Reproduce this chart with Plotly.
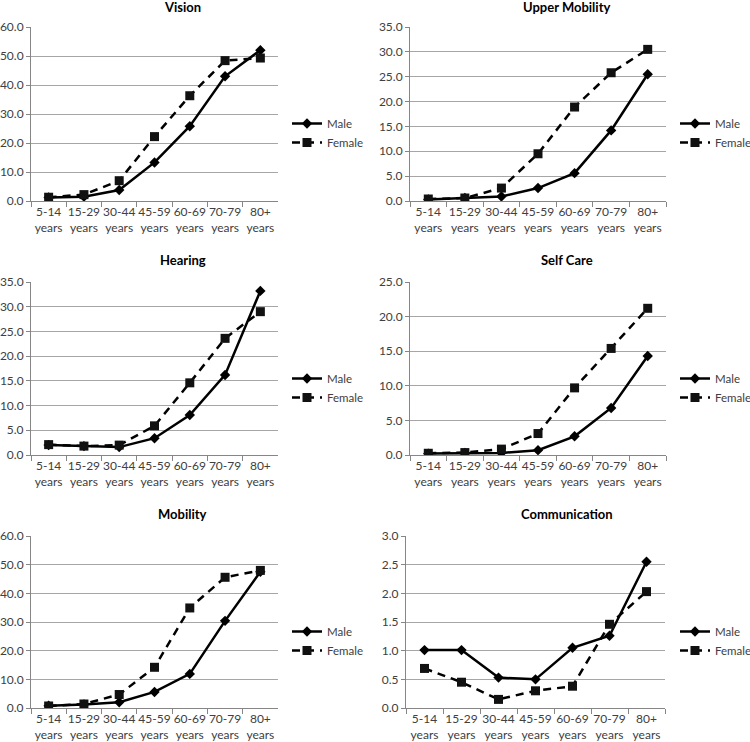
import plotly.graph_objects as go

categories = ["5-14<br>years", "15-29<br>years", "30-44<br>years", "45-59<br>years",
              "60-69<br>years", "70-79<br>years", "80+<br>years"]

titles = ["Vision", "Upper Mobility", "Hearing", "Self Care", "Mobility", "Communication"]

vision_male = [1.2, 1.5, 3.8, 13.3, 25.8, 43.0, 52.0]
vision_female = [1.3, 2.2, 7.0, 22.2, 36.3, 48.4, 49.3]
upper_male = [0.3, 0.6, 0.9, 2.6, 5.6, 14.2, 25.5]
upper_female = [0.4, 0.6, 2.6, 9.5, 18.9, 25.8, 30.5]
hearing_male = [2.0, 1.8, 1.6, 3.4, 8.1, 16.2, 33.2]
hearing_female = [2.1, 1.8, 2.0, 5.9, 14.6, 23.6, 29.0]
selfcare_male = [0.2, 0.3, 0.3, 0.7, 2.7, 6.8, 14.3]
selfcare_female = [0.25, 0.35, 0.85, 3.1, 9.7, 15.4, 21.2]
mobility_male = [0.8, 1.2, 2.0, 5.6, 11.9, 30.4, 47.5]
mobility_female = [0.7, 1.4, 4.7, 14.2, 34.9, 45.6, 48.0]
comm_male = [1.01, 1.01, 0.53, 0.50, 1.05, 1.26, 2.55]
comm_female = [0.69, 0.45, 0.15, 0.30, 0.38, 1.46, 2.03]

male_series = [vision_male, upper_male, hearing_male, selfcare_male, mobility_male, comm_male]
female_series = [vision_female, upper_female, hearing_female, selfcare_female, mobility_female, comm_female]

y_max = [60, 35, 35, 25, 60, 3]
y_step = [10, 5, 5, 5, 10, 0.5]

W, H = 750, 742
# plot areas in pixels: (left, right, top, bottom)
areas = [
    (31, 278, 27, 201),
    (410, 666, 27, 201),
    (31, 278, 282, 455),
    (410, 666, 282, 455),
    (31, 278, 536, 708),
    (406, 665, 536, 708),
]
title_pos = [(182, 7), (566, 7), (183, 260), (567, 260), (182, 514), (567, 514)]
legend_pos = [(287, 109), (675, 109), (287, 364), (675, 364), (287, 617), (675, 617)]

fig = go.Figure()
font_fam = "Lato, 'Liberation Sans', Arial, sans-serif"
gray_txt = "#404040"

layout_updates = {}
for i in range(6):
    n = i + 1
    xa = "x" if n == 1 else f"x{n}"
    ya = "y" if n == 1 else f"y{n}"
    lg = "legend" if n == 1 else f"legend{n}"
    fig.add_trace(go.Scatter(
        x=categories, y=male_series[i], name="Male", mode="lines+markers",
        xaxis=xa, yaxis=ya, legend=lg,
        line=dict(color="black", width=2.5),
        marker=dict(symbol="diamond", size=8, color="black"),
    ))
    fig.add_trace(go.Scatter(
        x=categories, y=female_series[i], name="Female", mode="lines+markers",
        xaxis=xa, yaxis=ya, legend=lg,
        line=dict(color="black", width=2.5, dash="8px,6px"),
        marker=dict(symbol="square", size=9, color="#111111"),
    ))
    l, r, t, b = areas[i]
    xkey = "xaxis" if n == 1 else f"xaxis{n}"
    ykey = "yaxis" if n == 1 else f"yaxis{n}"
    layout_updates[xkey] = dict(
        domain=[l / W, r / W], anchor=ya, type="category", automargin=False,
        range=[-0.5, 6.5], showgrid=False, showline=True, linecolor="#868686",
        linewidth=1, ticks="outside", tickson="boundaries", ticklen=5,
        tickangle=0,
        tickcolor="#868686", tickfont=dict(family=font_fam, size=12, color=gray_txt),
        fixedrange=True,
    )
    layout_updates[ykey] = dict(
        domain=[1 - b / H, 1 - t / H], anchor=xa, range=[0, y_max[i]], automargin=False,
        dtick=y_step[i], tick0=0, tickformat=".1f", showgrid=True,
        gridcolor="#a6a6a6", gridwidth=1, showline=True, linecolor="#868686",
        zeroline=False, ticks="outside", ticklen=4, tickcolor="#868686",
        tickfont=dict(family=font_fam, size=12, color=gray_txt), fixedrange=True,
    )
    lx, ly = legend_pos[i]
    layout_updates[lg] = dict(
        x=lx / W, y=1 - ly / H, xanchor="left", yanchor="top",
        bgcolor="rgba(0,0,0,0)", tracegroupgap=0, itemwidth=30,
        font=dict(family=font_fam, size=11.5, color=gray_txt),
    )

annotations = []
for i in range(6):
    tx, ty = title_pos[i]
    annotations.append(dict(
        text="<b>" + titles[i] + "</b>", x=tx / W, y=1 - ty / H, xref="paper", yref="paper",
        xanchor="center", yanchor="middle", showarrow=False,
        font=dict(family=font_fam, size=13, color="black"),
    ))

fig.update_layout(
    width=W, height=H, margin=dict(l=0, r=0, t=0, b=0, autoexpand=False),
    paper_bgcolor="white", plot_bgcolor="white", showlegend=True,
    annotations=annotations, **layout_updates,
)

fig.write_html(
    "out.html",
    config={"displayModeBar": False},
    post_script="document.body.style.margin='0px';document.body.style.overflow='hidden';",
)
